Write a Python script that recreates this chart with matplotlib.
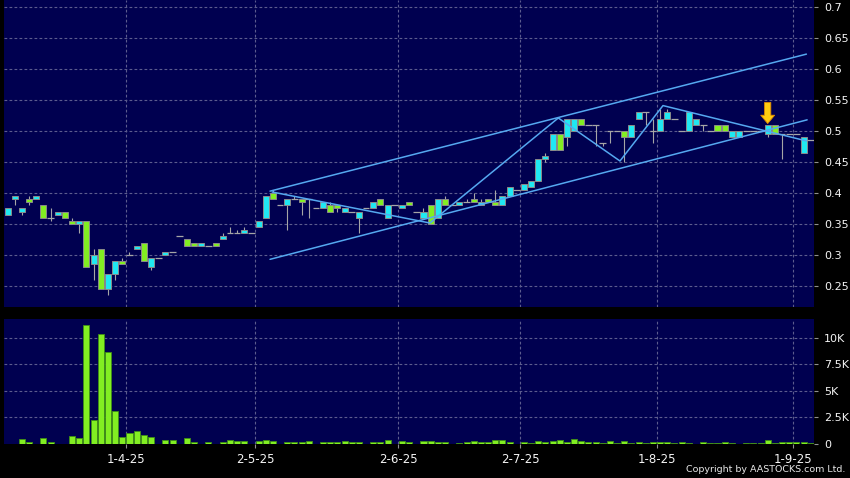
import matplotlib
matplotlib.use("Agg")
import matplotlib.pyplot as plt
import numpy as np

# ---------------- data ----------------
opens = [.365,.39,.37,.39,.39,.38,.36,.365,.37,.355,.35,.355,.285,.31,.245,.27,.29,.30,.31,.32,
         .28,.295,.30,.305,.33,.325,.32,.315,.315,.32,.325,.335,.335,.335,.335,.345,.36,.40,.38,.38,
         .39,.39,.39,.375,.375,.38,.38,.37,.37,.36,.375,.375,.39,.36,.38,.375,.385,.37,.36,.38,
         .36,.39,.38,.38,.385,.39,.38,.39,.385,.38,.395,.405,.405,.41,.42,.455,.47,.495,.49,.50,
         .52,.51,.51,.48,.50,.50,.50,.49,.52,.53,.50,.50,.52,.52,.50,.50,.51,.51,.50,.51,
         .51,.49,.49,.50,.50,.50,.495,.51,.495,.495,.495,.465,.485]
highs = [.375,.395,.375,.395,.395,.38,.375,.37,.37,.36,.355,.355,.31,.31,.27,.29,.295,.305,.315,.32,
         .295,.295,.305,.305,.33,.325,.32,.32,.315,.32,.335,.345,.34,.345,.335,.355,.395,.405,.38,.39,
         .395,.39,.39,.375,.385,.385,.38,.375,.37,.37,.375,.385,.39,.38,.38,.38,.385,.37,.375,.38,
         .39,.395,.38,.385,.39,.40,.39,.39,.405,.395,.41,.405,.415,.42,.455,.465,.495,.495,.52,.52,
         .52,.51,.51,.48,.50,.50,.50,.51,.53,.53,.52,.535,.535,.52,.50,.53,.52,.51,.50,.51,
         .51,.50,.50,.50,.50,.50,.51,.51,.495,.495,.495,.49,.485]
lows = [.365,.38,.365,.38,.39,.36,.355,.365,.36,.35,.335,.28,.26,.245,.235,.26,.285,.30,.31,.29,
        .275,.295,.30,.305,.33,.315,.315,.315,.315,.315,.325,.335,.335,.335,.335,.345,.36,.39,.38,.34,
        .39,.365,.36,.375,.375,.37,.37,.37,.37,.335,.375,.375,.38,.36,.38,.375,.38,.37,.36,.35,
        .36,.38,.38,.38,.385,.385,.38,.385,.38,.38,.395,.405,.405,.41,.42,.45,.47,.47,.475,.50,
        .51,.51,.475,.475,.48,.50,.45,.49,.52,.51,.48,.50,.52,.52,.50,.50,.51,.50,.50,.50,
        .50,.49,.49,.50,.50,.50,.49,.495,.455,.495,.495,.465,.485]
closes = [.375,.395,.375,.385,.395,.36,.36,.37,.36,.35,.355,.28,.30,.245,.27,.29,.285,.30,.315,.29,
          .295,.295,.305,.305,.33,.315,.315,.32,.315,.315,.33,.335,.335,.34,.335,.355,.395,.39,.38,.39,
          .39,.385,.39,.375,.385,.37,.375,.375,.37,.37,.375,.385,.38,.38,.38,.38,.38,.37,.37,.35,
          .39,.38,.38,.385,.385,.385,.385,.385,.38,.395,.41,.405,.415,.42,.455,.46,.495,.47,.52,.52,
          .51,.51,.51,.48,.50,.50,.49,.51,.53,.53,.50,.52,.53,.52,.50,.53,.52,.51,.50,.50,
          .50,.50,.50,.50,.50,.50,.51,.495,.495,.495,.495,.49,.485]
volumes = [0,0,410,100,0,510,100,0,0,730,510,11240,2220,10380,8630,3110,635,950,1140,825,
           600,0,320,290,0,480,130,0,130,0,130,320,230,230,0,230,330,230,0,95,
           95,95,190,0,95,95,170,250,130,130,0,95,130,320,0,220,95,0,190,190,
           95,170,0,60,95,190,95,95,320,290,95,0,95,60,220,160,250,320,95,445,
           190,95,95,60,220,60,220,60,130,60,95,130,130,30,95,30,0,160,60,30,
           95,40,0,30,30,40,290,30,95,160,95,95,30]

month_labels = ["1-4-25", "2-5-25", "2-6-25", "2-7-25", "1-8-25", "1-9-25"]
month_first_idx = [17, 35, 55, 72, 91, 110]

price_ticks = [0.25, 0.3, 0.35, 0.4, 0.45, 0.5, 0.55, 0.6, 0.65, 0.7]
vol_ticks = [0, 2500, 5000, 7500, 10000]
vol_tick_labels = ["0", "2.5K", "5K", "7.5K", "10K"]

# trend lines (candle index, price)
upper_line = [(36.6, 0.403), (111.4, 0.624)]
lower_line = [(36.6, 0.293), (111.5, 0.518)]
zigzag = [(36.9, 0.4016), (58.9, 0.3516), (76.8, 0.521), (85.4, 0.4516), (91.4, 0.541), (111.4, 0.484)]
arrow_idx = 106
arrow_from, arrow_to = 0.546, 0.512

# ---------------- style ----------------
BG = "#000050"
GRID = "#5c5c8e"
UP = "#20e8f2"
DOWN = "#82ee22"
WICK = "#a6a6a6"
EDGE = "#8a8a8a"
LINE = "#55a8f0"
TXT = "#f4f4f4"

fig = plt.figure(figsize=(8.5, 4.78), dpi=100, facecolor="black")
W, H = 850.0, 478.0
axp = fig.add_axes([4 / W, (H - 306.7) / H, 810.3 / W, 306.7 / H])
axv = fig.add_axes([4 / W, (H - 443.5) / H, 810.3 / W, 124.2 / H], sharex=axp)

o = np.array(opens); h = np.array(highs); l = np.array(lows); c = np.array(closes)
v = np.array(volumes, dtype=float)
x = np.arange(len(o))

for ax in (axp, axv):
    ax.set_facecolor(BG)
    for s in ax.spines.values():
        s.set_visible(False)
    ax.yaxis.tick_right()
    ax.tick_params(axis="y", direction="out", length=3, color="#909090",
                   labelcolor=TXT, labelsize=8.0, pad=4)
    for t in month_first_idx:
        ax.axvline(t - 0.5, color=GRID, lw=0.8, ls=(0, (2.5, 2)), zorder=0.5)

# price panel
axp.set_ylim(0.2166, 0.7113)
axp.set_yticks(price_ticks)
axp.set_yticklabels([f"{t:g}" for t in price_ticks])
for t in price_ticks:
    axp.axhline(t, color=GRID, lw=0.8, ls=(0, (2.5, 2)), zorder=0.5)

axp.vlines(x, l, h, color=WICK, lw=0.8, zorder=2)
flat = o == c
up = (c > o)
dn = (c < o)
axp.bar(x[up], (c - o)[up], bottom=o[up], width=0.84, color=UP, edgecolor=EDGE, linewidth=0.7, zorder=3)
axp.bar(x[dn], (o - c)[dn], bottom=c[dn], width=0.84, color=DOWN, edgecolor=EDGE, linewidth=0.7, zorder=3)
axp.hlines(o[flat], x[flat] - 0.47, x[flat] + 0.47, color=WICK, lw=0.9, zorder=3)

for line in (upper_line, lower_line, zigzag):
    xs, ys = zip(*line)
    axp.plot(xs, ys, color=LINE, lw=1.1, zorder=4, solid_capstyle="round")

axp.annotate("", xy=(arrow_idx, arrow_to), xytext=(arrow_idx, arrow_from),
             arrowprops=dict(arrowstyle="simple,head_width=1.0,head_length=0.6,tail_width=0.45",
                             mutation_scale=10, fc="#ffcc10", ec="#e08a00", lw=0.6, shrinkA=0, shrinkB=0),
             zorder=6)

axp.set_xlim(-0.5, 112.5)
axp.tick_params(axis="x", bottom=False, labelbottom=False)

# volume panel
axv.set_ylim(0, 11770)
axv.set_yticks(vol_ticks)
axv.set_yticklabels(vol_tick_labels)
for t in vol_ticks[1:]:
    axv.axhline(t, color=GRID, lw=0.8, ls=(0, (2.5, 2)), zorder=0.5)
axv.bar(x, v, width=0.84, color=DOWN, edgecolor="#3f8f16", linewidth=0.6, zorder=3)
axv.set_xticks([t - 0.5 for t in month_first_idx])
axv.set_xticklabels(month_labels)
axv.tick_params(axis="x", direction="out", length=3, color="#909090",
                labelcolor=TXT, labelsize=8.5, pad=3.5)

fig.text(845 / W, (H - 470) / H, "Copyright by AASTOCKS.com Ltd.", color="#e8e8e8",
         fontsize=6.8, ha="right", va="center")

fig.savefig("out.png", dpi=100, facecolor="black")
